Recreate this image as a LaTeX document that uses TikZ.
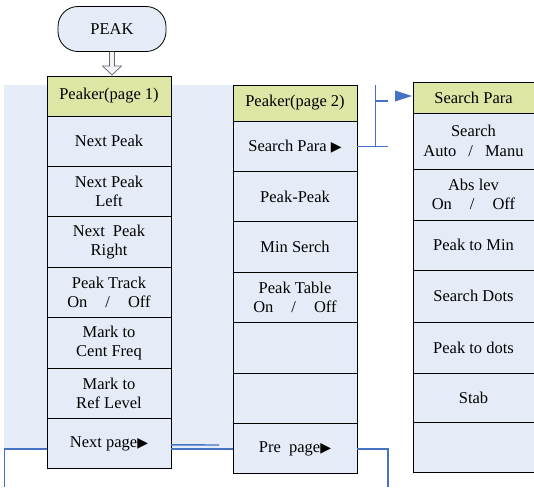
\documentclass[tikz,border=0pt]{standalone}
\usepackage{fontspec}
\setmainfont{Liberation Serif}
\newfontfamily\symfont{DejaVu Sans}
\usetikzlibrary{calc}
\definecolor{cellblue}{RGB}{230,236,247}
\definecolor{headgreen}{RGB}{222,230,166}
\definecolor{lineblue}{RGB}{68,114,196}
\newcommand{\tri}{{\symfont\fontsize{14}{14}\selectfont ▶}}
\begin{document}
\begin{tikzpicture}[x=1pt,y=-1pt,
  cell/.style={draw=black, line width=0.9pt, fill=cellblue, inner sep=0pt, outer sep=0pt,
    align=center, anchor=north west, font=\fontsize{16.5}{19.5}\selectfont, text=black},
  head/.style={cell, fill=headgreen},
  c1/.style={minimum width=124pt},
  c3/.style={minimum width=121pt},
  conn/.style={draw=lineblue, line width=1.4pt}]
\useasboundingbox (0,0) rectangle (534,487);
\fill[cellblue] (3.5,84.5) rectangle (233,449);

% PEAK
\node[draw=black, line width=0.8pt, fill=cellblue, rounded corners=20pt, minimum width=108pt,
  minimum height=45pt, inner sep=0pt, font=\fontsize{16.5}{19.5}\selectfont] (peak) at (112,29) {PEAK};

% Column 1
\node[head, c1, minimum height=40pt] (p1h) at (47,76) {Peaker(page 1)};
\node[cell, c1, minimum height=50.4pt] (p1a) at (47,116) {Next Peak};
\node[cell, c1, minimum height=50.4pt] (p1b) at (47,166.4) {Next Peak\\Left};
\node[cell, c1, minimum height=50.4pt] (p1c) at (47,216.8) {Next\hspace{8pt}Peak\\Right};
\node[cell, c1, minimum height=50.4pt] (p1d) at (47,267.2) {Peak Track\\On\hspace{18pt}/\hspace{18pt}Off};
\node[cell, c1, minimum height=50.4pt] (p1e) at (47,317.6) {Mark to\\Cent Freq};
\node[cell, c1, minimum height=50.4pt] (p1f) at (47,368) {Mark to\\Ref Level};
\node[cell, c1, minimum height=50.4pt] (p1g) at (47,418.4) {Next page\tri};

% Column 2
\node[head, c1, minimum height=36pt] (p2h) at (233,85) {Peaker(page 2)};
\node[cell, c1, minimum height=50.4pt] (p2a) at (233,121) {Search Para \tri};
\node[cell, c1, minimum height=50.4pt] (p2b) at (233,171.4) {Peak-Peak};
\node[cell, c1, minimum height=50.4pt] (p2c) at (233,221.8) {Min Serch};
\node[cell, c1, minimum height=50.4pt] (p2d) at (233,272.2) {Peak Table\\On\hspace{18pt}/\hspace{18pt}Off};
\node[cell, c1, minimum height=50.4pt] (p2e) at (233,322.6) {};
\node[cell, c1, minimum height=50.4pt] (p2f) at (233,373) {};
\node[cell, c1, minimum height=50.4pt] (p2g) at (233,423.4) {Pre\ \ page\tri};

% Column 3
\node[head, c3, minimum height=31pt] (p3h) at (413,82) {Search Para};
\node[cell, c3, minimum height=56pt] (p3a) at (413,113) {Search\\Auto\hspace{12pt}/\hspace{12pt}Manu};
\node[cell, c3, minimum height=51pt] (p3b) at (413,169) {Abs lev\\On\hspace{18pt}/\hspace{18pt}Off};
\node[cell, c3, minimum height=50pt] (p3c) at (413,220) {Peak to Min};
\node[cell, c3, minimum height=52pt] (p3d) at (413,270) {Search Dots};
\node[cell, c3, minimum height=51pt] (p3e) at (413,322) {Peak to dots};
\node[cell, c3, minimum height=49pt] (p3f) at (413,373) {Stab};
\node[cell, c3, minimum height=50pt] (p3g) at (413,422) {};

% hollow arrow PEAK -> page 1
\coordinate (atip) at (peak.south |- p1h.north);
\draw[draw=black!60, fill=cellblue!50, line width=0.7pt]
  ($(peak.south)+(-2.5,0)$) -- ($(peak.south)+(-2.5,14)$) -- ($(peak.south)+(-9.5,14)$)
  -- ($(atip)+(0,-1)$) -- ($(peak.south)+(9.5,14)$) -- ($(peak.south)+(2.5,14)$)
  -- ($(peak.south)+(2.5,0)$);

% bottom connectors
\coordinate (nL) at ($(p1g.south west)+(0,-20)$);
\coordinate (nLe) at ($(p1g.south east)+(0,-20)$);
\coordinate (nUe) at ($(p1g.south east)+(0,-24)$);
\coordinate (endL) at (4.7,487);
\coordinate (endR) at (388,487);
\coordinate (endU) at (219,445);
\draw[conn] (nL) -| (endL);
\draw[conn] (nUe) -- (endU);
\draw[conn] (nLe) -- (nL -| p2g.west);
\draw[conn] (p2g.east |- nL) -| (endR);

% bracket Search Para -> Search Para menu
\coordinate (btop) at (375.7,85);
\coordinate (bend) at (388,146.2);
\coordinate (tick) at (388,101);
\draw[conn] (p2a.east) -- (bend);
\draw[conn] (btop) -- (btop |- p2a.east);
\draw[conn] (btop |- tick) -- (tick);
\fill[lineblue] ($(p3h.west)+(-18,-7)$) -- ($(p3h.west)+(-1,-1.5)$) -- ($(p3h.west)+(-18,4)$) -- cycle;
\end{tikzpicture}
\end{document}
